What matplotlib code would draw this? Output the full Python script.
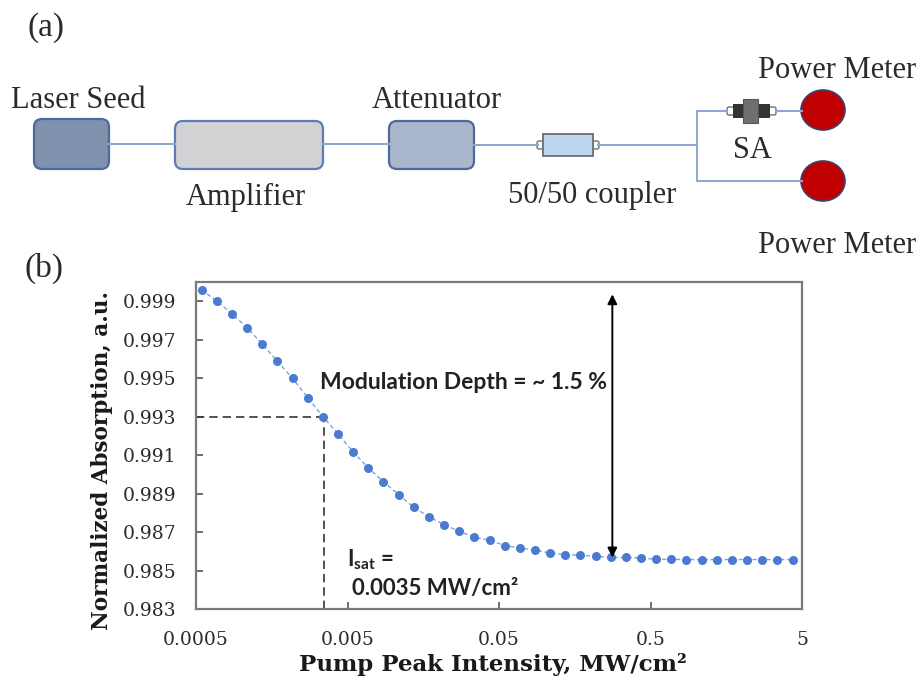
import matplotlib
matplotlib.use("Agg")
import matplotlib.pyplot as plt
from matplotlib.patches import FancyBboxPatch, Rectangle, Ellipse

intensity = [0.000545, 0.000686, 0.000864, 0.00109, 0.00137, 0.00172, 0.00217, 0.00273, 0.00344, 0.00433,
             0.00545, 0.00686, 0.00864, 0.0109, 0.0137, 0.0172, 0.0217, 0.0273, 0.0344, 0.0433,
             0.0545, 0.0686, 0.0864, 0.109, 0.137, 0.172, 0.217, 0.273, 0.344, 0.433,
             0.545, 0.686, 0.864, 1.09, 1.37, 1.72, 2.17, 2.73, 3.44, 4.33]
absorption = [0.99960, 0.99900, 0.99835, 0.99761, 0.99677, 0.99589, 0.99499, 0.99399, 0.99300, 0.99210,
              0.99116, 0.99034, 0.98961, 0.98894, 0.98828, 0.98780, 0.98739, 0.98704, 0.98673, 0.98658,
              0.98630, 0.98617, 0.98606, 0.98591, 0.98582, 0.98580, 0.98574, 0.98568, 0.98568, 0.98566,
              0.98558, 0.98558, 0.98557, 0.98557, 0.98557, 0.98557, 0.98557, 0.98557, 0.98557, 0.98557]

y_ticks = [0.983, 0.985, 0.987, 0.989, 0.991, 0.993, 0.995, 0.997, 0.999]
x_ticks = [0.0005, 0.005, 0.05, 0.5, 5]
x_tick_labels = ["0.0005", "0.005", "0.05", "0.5", "5"]

isat = 0.0035
isat_level = 0.993
arrow_x = 0.28
arrow_top = 0.99936
arrow_bottom = 0.98568

W, H = 921, 689
fig = plt.figure(figsize=(W / 100, H / 100), dpi=100)

# ---------- (a) schematic, drawn in pixel-like coordinates ----------
dax = fig.add_axes([0, 0, 1, 1], zorder=-1)
dax.set_xlim(0, W)
dax.set_ylim(H, 0)
dax.axis("off")

serif = "Liberation Serif"
tcol = "#2b2b2b"
fiber = "#8ea8cf"

def box(x0, y0, x1, y1, fc, ec):
    dax.add_patch(FancyBboxPatch((x0, y0), x1 - x0, y1 - y0,
                                 boxstyle="round,pad=0,rounding_size=8",
                                 fc=fc, ec=ec, lw=1.6))

def nub(x0, y0):
    dax.add_patch(FancyBboxPatch((x0, y0), 7, 8, boxstyle="round,pad=0,rounding_size=2",
                                 fc="white", ec="#707070", lw=1))

# fibres
dax.plot([109, 175], [144, 144], color=fiber, lw=1.5)
dax.plot([323, 389], [144, 144], color=fiber, lw=1.5)
dax.plot([474, 538], [145, 145], color=fiber, lw=1.5)
dax.plot([598, 697, 697, 727], [145, 145, 111, 111], color=fiber, lw=1.5)
dax.plot([697, 697, 802], [145, 181, 181], color=fiber, lw=1.5)
dax.plot([776, 802], [111, 111], color=fiber, lw=1.5)

box(34, 119, 109, 169, "#7e92ae", "#4d6a9a")
box(175, 121, 323, 169, "#d2d2d4", "#5b7db5")
box(389, 121, 474, 169, "#a9b6cb", "#4d6a9a")

# coupler
nub(537, 141)
nub(592, 141)
dax.add_patch(Rectangle((543, 134), 50, 22, fc="#bcd6ef", ec="#6d6d6d", lw=1.3))

# SA
nub(727, 107)
nub(769, 107)
dax.add_patch(Rectangle((733, 104), 13, 14, fc="#333333", ec="none"))
dax.add_patch(Rectangle((756, 104), 14, 14, fc="#333333", ec="none"))
dax.add_patch(Rectangle((743, 99), 15, 24, fc="#707070", ec="#555555", lw=0.8))

# power meters
dax.add_patch(Ellipse((823, 110), 44, 40, fc="#c00000", ec="#40406a", lw=1.2))
dax.add_patch(Ellipse((823, 181), 44, 40, fc="#c00000", ec="#40406a", lw=1.2))

fs = 22
dax.text(46, 36, "(a)", family=serif, fontsize=24, color=tcol, ha="center", va="baseline")
dax.text(78, 108, "Laser Seed", family=serif, fontsize=fs, color=tcol, ha="center", va="baseline")
dax.text(246, 205, "Amplifier", family=serif, fontsize=fs, color=tcol, ha="center", va="baseline")
dax.text(437, 108, "Attenuator", family=serif, fontsize=fs, color=tcol, ha="center", va="baseline")
dax.text(592, 203, "50/50 coupler", family=serif, fontsize=fs, color=tcol, ha="center", va="baseline")
dax.text(752, 158, "SA", family=serif, fontsize=fs, color=tcol, ha="center", va="baseline")
dax.text(837, 78, "Power Meter", family=serif, fontsize=fs, color=tcol, ha="center", va="baseline")
dax.text(837, 253, "Power Meter", family=serif, fontsize=fs, color=tcol, ha="center", va="baseline")
dax.text(44, 277, "(b)", family=serif, fontsize=24, color=tcol, ha="center", va="baseline")

# ---------- (b) absorption curve ----------
ax = fig.add_axes([196 / W, 1 - 609 / H, (802 - 196) / W, (609 - 282) / H])
ax.set_xscale("log")
ax.plot(intensity, absorption, color="#7aa3e0", lw=1, dashes=(3, 2), zorder=2)
ax.plot(intensity, absorption, "o", color="#4a7bd0", ms=6.5, mec="none", zorder=3)

ax.plot([x_ticks[0], isat], [isat_level, isat_level], color="#333333", lw=1.2, dashes=(5, 3))
ax.plot([isat, isat], [y_ticks[0], isat_level], color="#333333", lw=1.2, dashes=(5, 3))

ax.annotate("", xy=(arrow_x, arrow_top), xytext=(arrow_x, arrow_bottom),
            arrowprops=dict(arrowstyle="<|-|>", color="black", lw=1.4,
                            mutation_scale=14, shrinkA=0, shrinkB=0))

ax.set_xlim(x_ticks[0], x_ticks[-1])
ax.set_ylim(0.983, 1.0)
ax.set_yticks(y_ticks)
ax.set_yticklabels(["%.3f" % v for v in y_ticks])
ax.set_xticks(x_ticks)
ax.set_xticklabels(x_tick_labels)
ax.minorticks_off()
ax.tick_params(direction="in", length=5, width=1.2, color="#555555",
               labelsize=13.5, labelcolor=tcol)
ax.tick_params(axis="x", pad=16)
ax.tick_params(axis="y", pad=14)
for lab in ax.get_xticklabels() + ax.get_yticklabels():
    lab.set_family("DejaVu Serif")
for sp in ax.spines.values():
    sp.set_color("#7a7a7a")
    sp.set_linewidth(1.6)

plt.rcParams["mathtext.fontset"] = "custom"
plt.rcParams["mathtext.bf"] = "Lato:bold"
ax.text(0.205, 0.694, "Modulation Depth = ~ 1.5 %", transform=ax.transAxes,
        family="Lato", weight="bold", fontsize=16.5, color="#222222", ha="left", va="center")
ax.text(0.249, 0.150, r"$\mathbf{I_{sat}}$ =", transform=ax.transAxes,
        family="Lato", weight="bold", fontsize=16, color="#222222", ha="left", va="center")
ax.text(0.257, 0.064, "0.0035 MW/cm²", transform=ax.transAxes,
        family="Lato", weight="bold", fontsize=16, color="#222222", ha="left", va="center")

fig.text(102 / W, 1 - 461 / H, "Normalized Absorption, a.u.", family="DejaVu Serif",
         weight="bold", fontsize=15.5, color="#1a1a1a", rotation=90, ha="center", va="center")
fig.text(493 / W, 1 - 665 / H, "Pump Peak Intensity, MW/cm²", family="DejaVu Serif",
         weight="bold", fontsize=16.5, color="#1a1a1a", ha="center", va="center")

fig.savefig("out.png", dpi=100)
